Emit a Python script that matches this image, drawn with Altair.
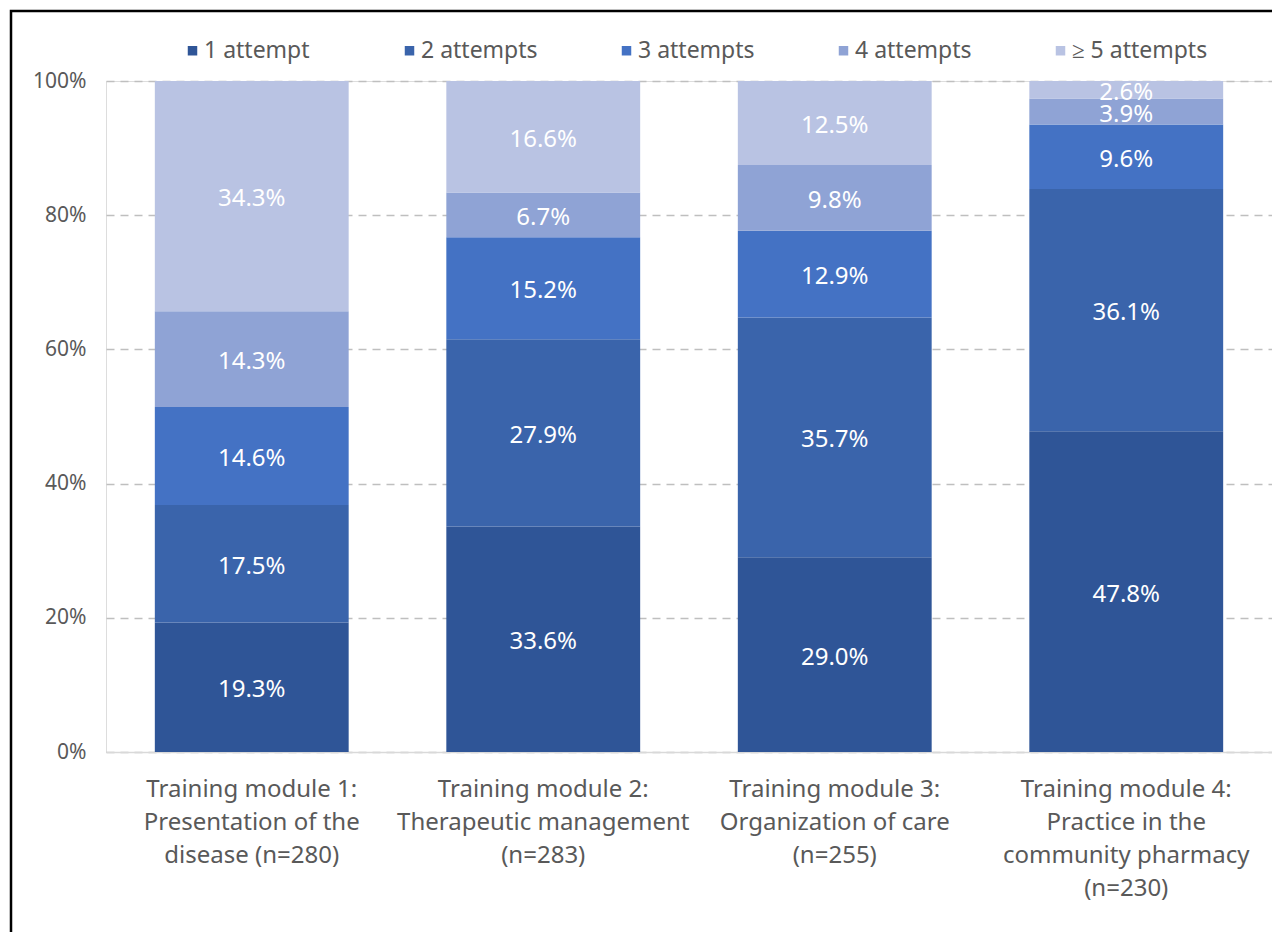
import altair as alt
import pandas as pd

modules = [
    "Training module 1:|Presentation of the|disease (n=280)",
    "Training module 2:|Therapeutic management|(n=283)",
    "Training module 3:|Organization of care|(n=255)",
    "Training module 4:|Practice in the|community pharmacy|(n=230)",
]
attempts = ["1 attempt", "2 attempts", "3 attempts", "4 attempts", "≥ 5 attempts"]
colors = ["#2F5597", "#3A64AB", "#4472C4", "#8FA3D5", "#B9C3E3"]

one_attempt = [19.3, 33.6, 29.0, 47.8]
two_attempts = [17.5, 27.9, 35.7, 36.1]
three_attempts = [14.6, 15.2, 12.9, 9.6]
four_attempts = [14.3, 6.7, 9.8, 3.9]
five_plus_attempts = [34.3, 16.6, 12.5, 2.6]

series = [one_attempt, two_attempts, three_attempts, four_attempts, five_plus_attempts]
rows = []
for k, (att, vals) in enumerate(zip(attempts, series)):
    for m, v in zip(modules, vals):
        rows.append({"module": m, "attempt": att, "order": k, "pct": v})
df = pd.DataFrame(rows)

FONT = "Noto Sans"
GREY = "#595959"

base = alt.Chart(df).transform_stack(
    stack="pct",
    groupby=["module"],
    as_=["y0", "y1"],
    offset="normalize",
    sort=[alt.SortField("order", order="ascending")],
).transform_calculate(
    mid="(datum.y0 + datum.y1) / 2",
    lbl="format(datum.pct, '.1f') + '%'",
)

x_enc = alt.X(
    "module:N",
    sort=modules,
    title=None,
    scale=alt.Scale(paddingInner=0.335, paddingOuter=0.1675),
    axis=alt.Axis(
        labelExpr="split(datum.value, '|')",
        labelAngle=0,
        labelFontSize=24,
        labelFont=FONT,
        labelColor=GREY,
        labelLineHeight=33,
        labelPadding=25,
        labelLimit=400,
        ticks=False,
        domainColor="#D9D9D9",
        domainWidth=1.5,
        grid=False,
    ),
)

bars = base.mark_bar().encode(
    x=x_enc,
    y=alt.Y(
        "y0:Q",
        title=None,
        scale=alt.Scale(domain=[0, 1], nice=False),
        axis=alt.Axis(
            values=[0, 0.2, 0.4, 0.6, 0.8, 1.0],
            format=".0%",
            labelFontSize=21,
            labelFont=FONT,
            labelColor=GREY,
            labelPadding=20,
            ticks=False,
            domain=False,
            grid=True,
            gridColor="#BFBFBF",
            gridDash=[8, 6],
            gridWidth=1.3,
        ),
    ),
    y2="y1:Q",
    color=alt.Color(
        "attempt:N",
        scale=alt.Scale(domain=attempts, range=colors),
        title=None,
        legend=alt.Legend(
            orient="none",
            legendX=75,
            legendY=-42,
            direction="horizontal",
            columns=5,
            gridAlign="all",
            symbolType="square",
            symbolSize=90,
            symbolStrokeWidth=0,
            labelFontSize=23,
            labelFont=FONT,
            labelColor=GREY,
            labelOffset=0,
            columnPadding=58,
            labelLimit=300,
            padding=0,
        ),
    ),
    order=alt.Order("order:Q"),
)

labels = base.mark_text(
    color="white", fontSize=24, font=FONT, baseline="middle", align="center", dy=3
).encode(
    x=alt.X("module:N", sort=modules),
    y=alt.Y("mid:Q"),
    text="lbl:N",
)

frame = alt.Chart(pd.DataFrame({"a": [0]})).mark_rect(
    fill=None, stroke="black", strokeWidth=2.5, clip=False
).encode(
    x=alt.value(-95), x2=alt.value(1400), y=alt.value(-70), y2=alt.value(1000)
)

chart = alt.layer(bars, labels, frame).properties(
    width=1166,
    height=671,
    autosize=alt.AutoSizeParams(type="none"),
    padding={"left": 98, "top": 73, "right": 0, "bottom": 180},
).configure_view(stroke=None).configure(background="white")

chart.save("out.html", embed_options={"renderer": "svg", "actions": False})
